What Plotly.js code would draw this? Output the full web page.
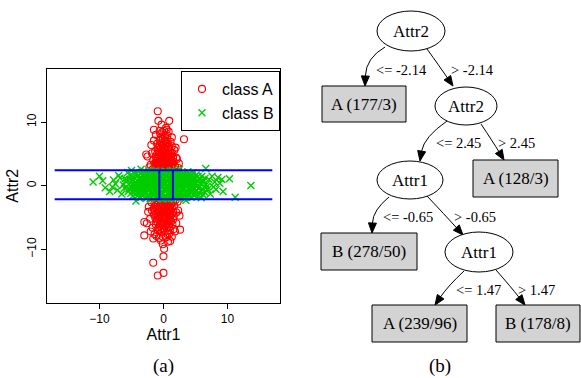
<!DOCTYPE html>
<html><head><meta charset="utf-8">
<script src="https://cdn.plot.ly/plotly-3.0.1.min.js"></script>
<style>html,body{margin:0;padding:0;background:#fff}#chart{width:581px;height:378px}</style>
</head><body><div id="chart"></div>
<script>
// ---------- scatter data (Attr1, Attr2) ----------
const classA_points = [
[-0.9,11.7],[0.9,10.2],[-0.8,10.2],[3.2,7.3],[-2.5,4.6],[-2.7,4.9],[2.1,4.2],[-1.5,8.8],[0.4,9.1],[-1.2,8.0],
[1.3,7.6],[-0.3,9.6],[0.8,8.5],[2.0,4.4],[1.7,5.6],[-1.9,6.4],[1.1,6.9],[-0.6,7.2],[0.2,7.9],[-0.2,8.4],
[0.6,7.3],[-1.0,6.6],[0.3,6.2],[-0.4,5.9],[1.4,5.1],[-1.3,5.4],[0.9,5.8],[-0.7,4.9],[0.1,5.2],[0.5,4.6],
[-0.1,4.2],[-1.6,4.0],[1.6,3.8],[-0.9,3.6],[0.7,3.5],[1.2,3.1],[-0.4,3.2],[0.2,3.7],[-1.4,3.0],[1.8,3.0],
[-2.0,3.3],[0.0,2.9],[-1.1,2.7],[0.9,2.7],[2.3,2.8],[-0.3,6.8],[0.5,6.5],[-0.8,6.0],[1.0,4.8],[-1.8,5.1],
[0.3,4.1],[-0.5,4.4],[0.8,4.0],[-1.2,4.6],[1.5,4.4],[-0.2,3.4],[0.4,3.0],[-0.6,2.6],[0.6,2.6],[1.7,2.6],
[-1.7,2.6],[0.1,6.0],[-0.1,7.4],[1.3,6.2],[-1.5,7.1],[2.4,3.5],[-2.2,2.9],[0.5,8.8],[-0.5,8.1],[1.9,6.0],
[-0.9,3.1],[-0.6,3.9],[-0.3,4.8],[0.0,3.3],[0.3,5.5],[0.6,4.3],[0.9,3.3],[1.2,4.2],[-1.1,4.2],[-0.2,5.6],
[0.4,6.8],[-0.7,5.3],[0.7,5.1],[-0.1,6.4],[1.0,5.4],[-1.3,3.6],[0.1,3.9],[0.5,3.4],[-0.5,3.6],[1.4,3.4],
[-0.4,7.6],[0.2,7.1],[-0.9,5.7],[0.8,6.1],[-0.2,4.5],[0.6,7.9],[-0.6,8.6],[0.1,8.6],[1.1,3.7],[-1.0,3.3],
[-0.8,2.9],[-0.3,2.7],[0.2,2.8],[0.8,3.0],[1.3,2.8],[-1.2,3.4],[-0.6,3.4],[0.3,3.2],[1.0,3.6],[-0.1,3.8],
[0.6,3.9],[-1.0,3.9],[0.4,4.4],[-0.4,4.1],[1.3,4.0],[-0.9,4.5],[0.8,4.6],[0.0,4.7],[-0.5,5.1],[0.5,5.0],
[1.2,5.0],[-1.0,5.0],[0.2,5.8],[-0.6,6.3],[0.7,6.6],
[-3.0,-5.7],[-3.0,-7.8],[2.6,-6.9],[2.5,-4.7],[-0.1,-9.2],[1.05,-8.7],[0.0,-11.1],[-1.6,-12.1],[-0.9,-14.1],[0.0,-13.7],
[-1.4,-7.6],[-2.3,-3.3],[2.2,-2.5],[-1.9,-2.6],[1.7,-3.2],[-1.2,-3.0],[0.6,-2.8],[-0.4,-2.6],[0.2,-3.4],[1.1,-3.8],
[-0.8,-4.0],[0.5,-4.3],[-1.5,-4.5],[1.6,-4.8],[-0.2,-5.0],[0.9,-5.3],[-1.0,-5.6],[0.3,-5.9],[1.4,-6.1],[-0.6,-6.3],
[0.1,-6.7],[-1.7,-6.6],[1.0,-7.0],[-0.3,-7.3],[0.6,-7.6],[-1.1,-7.9],[1.8,-7.2],[-2.1,-5.2],[2.0,-5.9],[-0.7,-8.2],
[0.4,-8.1],[1.3,-8.0],[-2.4,-4.1],[2.3,-3.9],[0.0,-2.3],[-1.0,-2.3],[1.0,-2.4],[1.9,-2.2],[-1.5,-3.6],[0.8,-3.2],
[-0.2,-3.9],[0.4,-5.2],[-1.3,-5.0],[1.2,-5.6],[-0.5,-6.9],[0.9,-6.5],[-0.9,-4.8],[1.5,-4.1],[0.2,-4.6],[-1.8,-3.9],
[-0.1,-6.1],[0.7,-8.8],[-1.6,-8.3],[1.6,-6.8],[-2.6,-5.9],[0.1,-9.9],[-0.4,-8.6],[2.0,-4.2],[-2.0,-7.2],
[-0.9,-2.8],[-0.5,-3.3],[-0.1,-2.9],[0.3,-2.6],[0.7,-3.6],[1.2,-2.9],[-1.3,-3.3],[0.0,-4.1],[0.4,-3.8],[-0.6,-4.6],
[0.9,-4.4],[-1.1,-4.3],[0.1,-5.4],[0.6,-5.8],[-0.4,-5.5],[1.1,-4.7],[-0.8,-5.2],[0.3,-6.3],[-0.2,-6.6],[0.8,-6.1],
[-1.2,-6.1],[1.3,-3.5],[-0.3,-4.3],[0.5,-4.9],[-0.7,-3.7],[0.2,-7.2],[-0.9,-7.0],[0.9,-7.5],[-0.1,-8.0],[1.5,-5.3],
[-0.7,-2.5],[0.1,-2.6],[0.9,-2.7],[-1.4,-2.7],[1.5,-2.6],[-0.3,-3.1],[0.5,-3.2],[1.0,-3.2],[-1.0,-3.6],[0.2,-3.6],
[0.9,-3.9],[-0.5,-4.0],[-1.3,-4.0],[0.6,-4.1],[0.0,-4.5],[1.3,-4.4],[-0.6,-4.9],[0.3,-5.0],[0.9,-4.9],[-1.1,-5.3],
[0.0,-5.7],[0.8,-5.5],[-0.5,-5.9],[0.5,-6.6],[-0.8,-6.6],
[-2.0,1.9],[2.2,2.2],[-1.8,-1.8],[2.4,-1.5],[-2.3,0.5]
];
const classB_points = [
[-11.0,0.6],[-10.0,1.5],[-9.5,0.8],[-9.1,-0.3],[-8.4,-0.9],[-8.0,-0.2],[-7.8,0.9],[-7.5,0.3],[-7.2,-0.7],[-7.0,1.6],
[-6.8,1.2],[-6.5,-1.3],[-6.3,0.1],[-6.1,-0.4],[-5.9,0.7],[-5.6,2.1],[-5.5,-0.9],[-5.3,1.0],[-5.0,2.4],[-5.0,0.2],
[-4.8,-1.6],[-4.7,1.4],[-4.5,-0.3],[-4.4,0.6],[-4.3,-2.4],[-4.2,1.9],[-4.0,-1.1],[-3.9,0.0],[-3.8,1.1],[-3.7,-0.6],
[-3.6,2.0],[-3.5,2.6],[-3.5,-1.8],[-3.4,0.4],[-3.3,-0.2],[-3.2,1.5],[-3.1,-1.3],[-3.0,0.8],[-2.9,-0.7],[-2.8,2.2],
[-2.8,0.1],[-2.7,-2.0],[-2.6,1.2],[-2.5,-0.4],[-2.4,0.5],[-2.4,1.8],[-2.3,-1.5],[-2.2,-0.1],[-2.1,0.9],[-2.0,-0.9],
[-2.0,2.4],[-1.9,0.3],[-1.8,1.5],[-1.8,-1.9],[-1.7,-0.5],[-1.6,0.7],[-1.5,2.0],[-1.5,-1.2],[-1.4,0.0],[-1.3,1.1],
[-1.2,-0.8],[-1.2,2.3],[-1.1,-1.9],[-1.0,0.4],[-1.0,1.7],[-0.9,-0.3],[-0.8,-1.4],[-0.8,0.9],[-0.7,2.2],[-0.6,-0.6],
[-0.5,0.2],[-0.5,1.4],[-0.4,-1.8],[-0.3,-1.0],[-0.3,0.7],[-0.2,1.9],[-0.1,-0.2],[0.0,-2.0],[0.0,1.2],[0.1,0.4],
[0.2,-0.8],[0.2,2.3],[0.3,-1.5],[0.4,0.9],[0.5,-0.3],[0.5,1.7],[0.6,-2.0],[0.7,0.1],[0.8,1.3],[0.8,-1.1],
[0.9,2.1],[1.0,-0.5],[1.1,0.6],[1.2,-1.7],[1.2,1.6],[1.3,0.0],[1.4,2.4],[1.4,-0.9],[1.5,0.9],[1.6,-1.4],
[1.7,0.3],[1.8,1.9],[1.8,-0.4],[1.9,-2.0],[2.0,1.1],[2.1,-0.8],[2.2,0.5],[2.3,2.0],[2.3,-1.3],[2.4,-0.1],
[2.5,2.6],[2.5,1.4],[2.6,-1.8],[2.7,0.7],[2.8,-0.5],[2.9,1.8],[3.0,0.2],[3.1,-1.1],[3.2,1.2],[3.3,-2.1],
[3.4,0.5],[3.5,-2.3],[3.5,-0.7],[3.6,1.6],[3.7,0.0],[3.8,2.2],[3.9,-1.4],[4.0,0.8],[4.1,-0.3],[4.2,1.4],
[4.3,-1.8],[4.4,0.3],[4.5,-0.9],[4.6,2.0],[4.7,1.0],[4.8,-0.4],[4.9,-1.5],[5.0,0.5],[5.1,1.7],[5.2,-0.8],
[5.3,0.0],[5.5,1.1],[5.6,-1.2],[5.7,0.4],[5.9,-1.9],[6.0,1.5],[6.1,-0.5],[6.3,0.8],[6.4,-1.0],[6.6,2.7],
[6.7,0.2],[6.9,-0.6],[7.1,1.0],[7.3,-1.3],[7.6,1.5],[7.8,-0.2],[8.0,0.6],[8.2,-0.6],[8.5,1.3],[8.8,0.4],
[9.1,1.0],[9.3,-0.9],[10.3,1.1],[11.2,-1.8],[13.65,0.05],
[-3.9,1.7],[-3.7,0.9],[-3.6,-0.9],[-3.4,-1.5],[-3.3,2.1],[-3.1,0.3],[-3.0,-0.3],[-2.9,1.4],[-2.8,-1.1],[-2.7,0.6],
[-2.6,-0.1],[-2.6,2.0],[-2.5,-1.7],[-2.4,0.9],[-2.3,1.4],[-2.2,-0.6],[-2.1,0.2],[-2.1,-2.0],[-2.0,1.2],[-1.9,-1.3],
[-1.9,2.0],[-1.8,0.6],[-1.7,-0.2],[-1.7,1.9],[-1.6,-1.6],[-1.5,1.0],[-1.4,-0.7],[-1.4,2.3],[-1.3,0.4],[-1.3,-1.9],
[-1.2,1.5],[-1.1,-0.4],[-1.1,0.9],[-1.0,-1.2],[-0.9,2.0],[-0.9,0.2],[-0.8,-0.9],[-0.7,1.3],[-0.7,-1.7],[-0.6,0.5],
[-0.5,-1.1],[-0.4,2.2],[-0.4,0.0],[-0.3,1.6],[-0.2,-1.4],[-0.2,0.6],[-0.1,-2.1],[0.0,1.0],[0.0,-0.5],[0.1,2.0],
[0.2,0.1],[0.3,1.5],[0.3,-1.9],[0.4,-0.6],[0.5,2.2],[0.6,0.6],[0.6,-1.3],[0.7,1.9],[0.8,-0.2],[0.9,1.0],
[0.9,-1.8],[1.0,0.3],[1.1,2.3],[1.1,-1.0],[1.2,1.1],[1.3,-0.5],[1.3,-2.0],[1.4,0.6],[1.5,1.9],[1.5,-1.3],
[1.6,0.1],[1.7,1.4],[1.7,-0.8],[1.8,-1.7],[1.9,0.7],[2.0,2.1],[2.0,-0.3],[2.1,1.5],[2.2,-1.6],[2.2,0.0],
[2.3,0.9],[2.4,-0.9],[2.5,0.3],[2.6,1.9],[2.6,-1.2],[2.7,-0.2],[2.8,1.2],[2.9,-1.6],[3.0,0.9],[3.1,2.0],
[3.2,-0.4],[3.3,0.6],[3.4,-1.2],[3.5,1.4],[3.6,-0.2],[3.8,-1.0],[3.9,0.6],[4.1,1.8],[4.3,-0.7],[4.5,0.2],
[-6.0,1.1],[-5.8,-0.2],[-5.7,0.9],[-5.4,-0.5],[-5.2,1.6],[-5.1,-1.2],[-4.9,0.9],[-4.9,-0.4],[-4.6,0.1],[-4.6,-1.0],
[-4.5,1.2],[-4.4,2.1],[-4.3,-0.7],[-4.2,0.4],[-4.1,1.5],[-4.1,-1.6],[-3.9,-0.3],[-3.8,0.5],[-3.8,-1.9],[-3.6,1.3],
[-3.5,0.1],[-3.3,-0.8],[-3.2,0.9],[-3.1,2.3],[-2.9,0.2],
[3.0,-0.6],[3.1,1.5],[3.3,-1.6],[3.4,1.0],[3.5,0.2],[3.6,-1.8],[3.7,0.8],[3.8,1.7],[3.9,-0.5],[4.0,-1.3],
[4.1,0.5],[4.2,-0.1],[4.3,1.1],[4.4,-1.2],[4.5,1.6],[4.6,-0.6],[4.7,0.5],[4.8,1.3],[4.9,0.1],[5.0,-1.0],
[5.2,0.8],[5.3,-1.6],[5.4,1.5],[5.5,-0.3],[5.7,1.0],[5.8,-0.8],[6.0,0.3],[6.2,-1.4],[6.5,1.2],[6.8,-0.1]
];
const classNames = ['class A', 'class B'];

// split thresholds learned by the tree
const splitsAttr2 = [-2.14, 2.45];
const splitsAttr1 = [-0.65, 1.47];
const splitLineSpan = [-17, 17];

const xTickVals = [-10, 0, 10];
const xTickText = ['\u221210', '0', '10'];
const yTickVals = [-10, 0, 10];
const yTickText = ['\u221210', '0', '10'];

// ---------- decision tree ----------
const treeLabels = ['Attr2', 'A (177/3)', 'Attr2', 'A (128/3)', 'Attr1', 'B (278/50)', 'Attr1', 'A (239/96)', 'B (178/8)'];
const treeIsLeaf = [false, true, false, true, false, true, false, true, true];
const treeEdges = [[0,1],[0,2],[2,4],[2,3],[4,5],[4,6],[6,7],[6,8]];
const treeEdgeLabels = ['<= -2.14', '> -2.14', '<= 2.45', '> 2.45', '<= -0.65', '> -0.65', '<= 1.47', '> 1.47'];

// ---------- layout geometry for the tree (pixel-like units of the tree axes) ----------
const nodeGeom = [ // cx, cy, half-width, half-height
  [411, 31, 34, 20], [364, 104, 42, 18], [466, 106, 31, 19], [515.5, 178.5, 42.5, 18.5],
  [410, 180, 33, 19], [369, 251.5, 48, 18.5], [479, 252, 34, 20], [419.5, 323.5, 47.5, 18.5], [538, 323.5, 42, 18.5]
];
const edgeGeom = [ // start, control, tip
  [[385,47],[366,58],[365,86]], [[427,49],[440,67],[453,86]],
  [[447,121],[424,137],[420,161]], [[481,124],[493,142],[504,160]],
  [[389,197],[373,210],[372,233]], [[427,196],[445,215],[463,235]],
  [[464,271],[448,286],[435,305]], [[496,270],[511,287],[525,305]]
];
const edgeLabelPos = [[401,70],[472,70],[458,143],[516,143],[408,217],[475,217],[478,290],[536,290]];

const W = 581, H = 378;
const traces = [];
traces.push({
  x: classA_points.map(p => p[0]), y: classA_points.map(p => p[1]),
  type: 'scatter', mode: 'markers', name: classNames[0],
  marker: {symbol: 'circle-open', size: 7, color: '#ff0000', line: {width: 1.1, color: '#ff0000'}},
  xaxis: 'x', yaxis: 'y'
});
traces.push({
  x: classB_points.map(p => p[0]), y: classB_points.map(p => p[1]),
  type: 'scatter', mode: 'markers', name: classNames[1],
  marker: {symbol: 'x-thin-open', size: 7, color: '#00cd00', line: {width: 1.4, color: '#00cd00'}},
  xaxis: 'x', yaxis: 'y'
});
splitsAttr2.forEach(v => traces.push({
  x: splitLineSpan, y: [v, v], type: 'scatter', mode: 'lines', showlegend: false,
  line: {color: '#0000ff', width: 2}, xaxis: 'x', yaxis: 'y', hoverinfo: 'skip'
}));
splitsAttr1.forEach(v => traces.push({
  x: [v, v], y: splitsAttr2, type: 'scatter', mode: 'lines', showlegend: false,
  line: {color: '#0000ff', width: 2}, xaxis: 'x', yaxis: 'y', hoverinfo: 'skip'
}));

const shapes = [];
const annotations = [];
const esc = s => s.replace(/</g, '&lt;').replace(/>/g, '&gt;');

treeEdges.forEach((e, i) => {
  const [s, c, t] = edgeGeom[i];
  let dx = t[0] - c[0], dy = t[1] - c[1];
  const L = Math.hypot(dx, dy); dx /= L; dy /= L;
  const len = 10, hw = 4;
  const bx = t[0] - dx * len, by = t[1] - dy * len;
  shapes.push({type: 'path', xref: 'x2', yref: 'y2',
    path: `M ${s[0]},${s[1]} Q ${c[0]},${c[1]} ${bx},${by}`,
    line: {color: '#000', width: 1}});
  shapes.push({type: 'path', xref: 'x2', yref: 'y2',
    path: `M ${t[0]},${t[1]} L ${bx - dy*hw},${by + dx*hw} L ${bx + dy*hw},${by - dx*hw} Z`,
    fillcolor: '#000', line: {color: '#000', width: 1}});
  annotations.push({xref: 'x2', yref: 'y2', x: edgeLabelPos[i][0], y: edgeLabelPos[i][1],
    text: esc(treeEdgeLabels[i]), showarrow: false, xanchor: 'center', yanchor: 'middle',
    font: {family: 'Liberation Serif, Times New Roman, serif', size: 14.5, color: '#000'}});
});
treeLabels.forEach((lab, i) => {
  const [cx, cy, hw, hh] = nodeGeom[i];
  shapes.push({type: treeIsLeaf[i] ? 'rect' : 'circle', xref: 'x2', yref: 'y2',
    x0: cx - hw, x1: cx + hw, y0: cy - hh, y1: cy + hh,
    fillcolor: treeIsLeaf[i] ? '#d3d3d3' : '#ffffff', line: {color: '#000', width: 1}});
  annotations.push({xref: 'x2', yref: 'y2', x: cx, y: cy, text: lab, showarrow: false,
    xanchor: 'center', yanchor: 'middle',
    font: {family: 'Liberation Serif, Times New Roman, serif', size: 17, color: '#000'}});
});
annotations.push({xref: 'paper', yref: 'paper', x: 163/W, y: 1 - 366/H, text: '(a)', showarrow: false,
  xanchor: 'center', yanchor: 'middle',
  font: {family: 'Liberation Serif, serif', size: 19, color: '#000'}});
annotations.push({xref: 'paper', yref: 'paper', x: 440/W, y: 1 - 366/H, text: '(b)', showarrow: false,
  xanchor: 'center', yanchor: 'middle',
  font: {family: 'Liberation Serif, serif', size: 19, color: '#000'}});

const sansFont = 'Liberation Sans, Arial, sans-serif';
const layout = {
  width: W, height: H, margin: {l: 0, r: 0, t: 0, b: 0},
  paper_bgcolor: '#fff', plot_bgcolor: 'rgba(0,0,0,0)',
  font: {family: sansFont, color: '#000'},
  xaxis: {domain: [47/W, 280/W], range: [-18.2, 18.2], showgrid: false, zeroline: false,
    showline: true, mirror: true, linecolor: '#000', linewidth: 1,
    ticks: 'outside', ticklen: 5, tickcolor: '#000', tickvals: xTickVals, ticktext: xTickText,
    tickfont: {size: 12, family: sansFont}, anchor: 'y',
    title: {text: 'Attr1', font: {size: 16, family: sansFont}, standoff: 0}},
  yaxis: {domain: [1 - 302.5/H, 1 - 69/H], range: [-18.35, 18.35], showgrid: false, zeroline: false,
    showline: true, mirror: true, linecolor: '#000', linewidth: 1,
    ticks: 'outside', ticklen: 5, tickcolor: '#000', tickvals: yTickVals, ticktext: yTickText,
    tickangle: -90, tickfont: {size: 12, family: sansFont}, anchor: 'x',
    title: {text: 'Attr2', font: {size: 16, family: sansFont}, standoff: 2}},
  xaxis2: {domain: [300/W, 1], range: [300, 581], visible: false, anchor: 'y2', fixedrange: true},
  yaxis2: {domain: [0, 1], range: [378, 0], visible: false, anchor: 'x2', fixedrange: true},
  showlegend: true,
  legend: {x: 280/W, xanchor: 'right', y: 1 - 71/H, yanchor: 'top',
    bgcolor: '#fff', bordercolor: '#000', borderwidth: 1,
    font: {size: 16, family: sansFont, color: '#000'}, itemwidth: 30, tracegroupgap: 0},
  shapes: shapes, annotations: annotations
};
Plotly.newPlot('chart', traces, layout, {staticPlot: true, displayModeBar: false});
</script>
</body></html>
